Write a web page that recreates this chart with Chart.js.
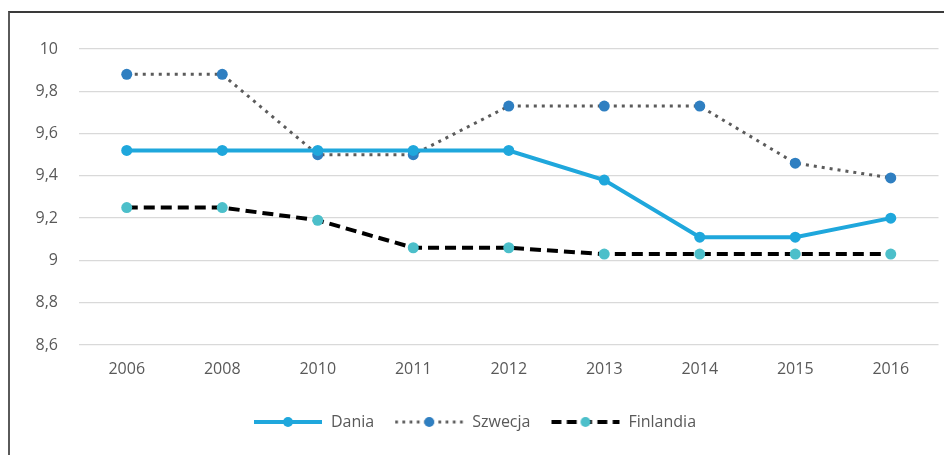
<!DOCTYPE html>
<html>
<head>
<meta charset="utf-8">
<script src="https://cdn.jsdelivr.net/npm/chart.js@4"></script>
<style>
  html, body { margin: 0; padding: 0; background: #fff; }
  body { width: 944px; height: 455px; overflow: hidden; position: relative; }
  #frame {
    position: absolute; left: 8px; top: 11px; width: 960px; height: 470px;
    border-top: 2px solid #3a3a3a; border-left: 2px solid #5a5a5a;
  }
  #wrap { position: absolute; left: 10px; top: 13px; width: 934px; height: 442px; }
</style>
</head>
<body>
<div id="frame"></div>
<div id="wrap"><canvas id="chart"></canvas></div>
<script>
// data
const years = ["2006", "2008", "2010", "2011", "2012", "2013", "2014", "2015", "2016"];
const dania = [9.52, 9.52, 9.52, 9.52, 9.52, 9.38, 9.11, 9.11, 9.2];
const szwecja = [9.88, 9.88, 9.5, 9.5, 9.73, 9.73, 9.73, 9.46, 9.39];
const finlandia = [9.25, 9.25, 9.19, 9.06, 9.06, 9.03, 9.03, 9.03, 9.03];
const yMin = 8.6, yMax = 10, yStep = 0.2;

const txt = "#595959";
const font = { family: "'Open Sans', 'DejaVu Sans', sans-serif", size: 16 };

// small legend sample, Excel style: line with a marker in the middle
function sample(color, width, dash, marker) {
  const c = document.createElement("canvas");
  c.width = 70; c.height = 14;
  const g = c.getContext("2d");
  g.strokeStyle = color;
  g.lineWidth = width;
  g.setLineDash(dash);
  g.beginPath(); g.moveTo(1, 7); g.lineTo(69, 7); g.stroke();
  g.setLineDash([]);
  g.fillStyle = marker;
  g.beginPath(); g.arc(35, 7, 5, 0, Math.PI * 2); g.fill();
  return c;
}

const series = [
  { label: "Dania", data: dania, color: "#1fa7dc", marker: "#1fa7dc", width: 4, dash: [] },
  { label: "Szwecja", data: szwecja, color: "#5b5b5b", marker: "#2f7fc1", width: 3, dash: [3, 5] },
  { label: "Finlandia", data: finlandia, color: "#000000", marker: "#4cbfca", width: 4, dash: [11, 6] }
];

new Chart(document.getElementById("chart"), {
  type: "line",
  data: {
    labels: years,
    datasets: series.map((s) => ({
      label: s.label,
      data: s.data,
      borderColor: s.color,
      borderWidth: s.width,
      borderDash: s.dash,
      pointRadius: 5.5,
      pointBorderWidth: 0,
      pointBackgroundColor: s.marker,
      pointStyle: "circle",
      tension: 0,
      fill: false
    }))
  },
  options: {
    responsive: true,
    maintainAspectRatio: false,
    animation: false,
    layout: { padding: { top: 36, right: 5, left: 0, bottom: 15 } },
    plugins: {
      tooltip: { enabled: false },
      legend: {
        position: "bottom",
        labels: {
          color: txt,
          font: font,
          usePointStyle: true,
          pointStyleWidth: 70,
          boxHeight: 14,
          padding: 20,
          generateLabels: (chart) => series.map((s, i) => ({
            text: s.label,
            fontColor: txt,
            pointStyle: sample(s.color, s.width, s.dash.length ? s.dash.map((d) => d * 0.9) : [], s.marker),
            datasetIndex: i,
            lineWidth: 0,
            strokeStyle: "transparent",
            fillStyle: "transparent"
          }))
        }
      }
    },
    scales: {
      x: {
        offset: true,
        grid: { display: false, drawTicks: false },
        border: { display: false },
        ticks: { color: txt, font: font, padding: 15 },
        afterFit: (scale) => { scale.height = 49; }
      },
      y: {
        min: yMin,
        max: yMax,
        grid: { color: "#d9d9d9", lineWidth: 1.3, drawTicks: false },
        border: { display: false },
        ticks: {
          stepSize: yStep,
          color: txt,
          font: font,
          padding: 21,
          callback: (v) => (Math.round(v * 10) / 10).toString().replace(".", ",")
        },
        afterFit: (scale) => { scale.width = 69; }
      }
    }
  }
});
</script>
</body>
</html>
